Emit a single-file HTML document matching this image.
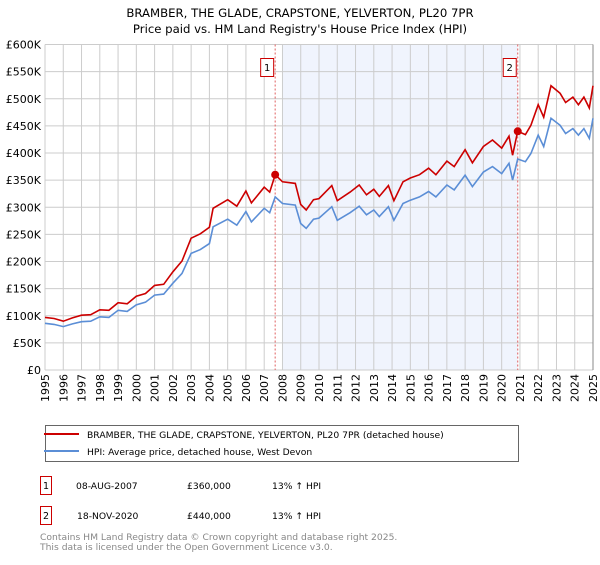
<!DOCTYPE html>
<html><head><meta charset="utf-8"><style>
body{margin:0;background:#fff;}
svg text{font-family:"DejaVu Sans","Liberation Sans",sans-serif;}
</style></head><body>
<svg id="c" width="600" height="560" xmlns="http://www.w3.org/2000/svg">
<text x="300" y="17" text-anchor="middle" font-size="11.7">BRAMBER, THE GLADE, CRAPSTONE, YELVERTON, PL20 7PR</text>
<text x="300" y="33" text-anchor="middle" font-size="11.7">Price paid vs. HM Land Registry's House Price Index (HPI)</text>
<g id="plot"></g>
<rect x="45.5" y="425.5" width="473" height="36" fill="none" stroke="#666"/>
<line x1="44" y1="434" x2="79" y2="434" stroke="#cc0000" stroke-width="2"/>
<text x="87" y="438" font-size="9.2">BRAMBER, THE GLADE, CRAPSTONE, YELVERTON, PL20 7PR (detached house)</text>
<line x1="44" y1="451" x2="79" y2="451" stroke="#5b8ed6" stroke-width="2"/>
<text x="87" y="455" font-size="9.2">HPI: Average price, detached house, West Devon</text>
<rect x="40.5" y="476.5" width="11" height="18" fill="none" stroke="#cc0000"/>
<text x="46" y="489" font-size="9.5" text-anchor="middle">1</text>
<text x="76" y="489" font-size="9.2">08-AUG-2007</text>
<text x="187" y="489" font-size="9.2">£360,000</text>
<text x="272" y="489" font-size="9.2">13% ↑ HPI</text>
<rect x="40.5" y="506.5" width="11" height="18" fill="none" stroke="#cc0000"/>
<text x="46" y="519" font-size="9.5" text-anchor="middle">2</text>
<text x="77" y="519" font-size="9.2">18-NOV-2020</text>
<text x="187" y="519" font-size="9.2">£440,000</text>
<text x="272" y="519" font-size="9.2">13% ↑ HPI</text>
<text x="40" y="540" font-size="9.2" fill="#888">Contains HM Land Registry data © Crown copyright and database right 2025.</text>
<text x="40" y="550" font-size="9.2" fill="#888">This data is licensed under the Open Government Licence v3.0.</text>
</svg>
<script>
const years=[1995,1995.5,1996,1996.5,1997,1997.5,1998,1998.5,1999,1999.5,2000,2000.5,2001,2001.5,2002,2002.5,2003,2003.5,2004,2004.2,2005,2005.5,2006,2006.3,2007,2007.3,2007.6,2008,2008.7,2009,2009.3,2009.7,2010,2010.7,2011,2011.7,2012.2,2012.6,2013,2013.3,2013.8,2014.1,2014.6,2015,2015.5,2016,2016.4,2017,2017.4,2018,2018.4,2019,2019.5,2020,2020.4,2020.6,2020.88,2021.3,2021.6,2022,2022.3,2022.7,2023.2,2023.5,2023.9,2024.2,2024.5,2024.8,2025];
const hpiValues=[86,84,80,85,89,90,98,97,110,108,120,125,138,140,160,178,215,222,233,264,278,267,292,273,298,290,319,307,304,270,261,278,280,301,276,290,302,286,295,283,301,276,307,313,319,329,319,341,332,359,338,365,375,362,381,350,389,384,399,433,412,464,451,436,445,433,445,427,464];
const propertyValues=[97,95,90,96,101,102,111,110,124,122,136,141,156,158,181,201,243,251,263,298,314,302,330,308,337,328,360,347,344,305,295,314,316,340,312,328,341,323,333,320,340,312,347,354,360,372,360,385,375,406,382,412,424,409,431,396,440,434,451,489,466,524,510,493,503,489,503,483,524];
const saleYears=[2007.6,2020.88];
const saleValues=[360,440];
const saleLabels=["1","2"];
const yTicks=[0,50,100,150,200,250,300,350,400,450,500,550,600];
const yTickLabels=["£0","£50K","£100K","£150K","£200K","£250K","£300K","£350K","£400K","£450K","£500K","£550K","£600K"];
const xTicks=[1995,1996,1997,1998,1999,2000,2001,2002,2003,2004,2005,2006,2007,2008,2009,2010,2011,2012,2013,2014,2015,2016,2017,2018,2019,2020,2021,2022,2023,2024,2025];

const X0=45,X1=593,Y0=370,Y1=44.5;
const xs=y=>X0+(y-1995)/30*(X1-X0);
const ys=v=>Y0-v/600*(Y0-Y1);
const NS="http://www.w3.org/2000/svg";
const g=document.getElementById('plot');
function mk(t,a){const e=document.createElementNS(NS,t);for(const k in a)e.setAttribute(k,a[k]);g.appendChild(e);return e;}
let e=mk('rect',{x:xs(2008),y:Y1,width:xs(saleYears[1])-xs(2008),height:Y0-Y1,fill:'#f0f4fd'});


yTicks.forEach((v,i)=>{
 let l=mk('line',{x1:X0,x2:X1,y1:ys(v),y2:ys(v),stroke:'#ccc'});
 
 
 let t=mk('text',{x:X0-4,y:ys(v)+4,'text-anchor':'end','font-size':'11'});t.textContent=yTickLabels[i];
 
 
});
xTicks.forEach(yr=>{
 let l=mk('line',{x1:xs(yr),x2:xs(yr),y1:Y1,y2:Y0,stroke:'#ccc'});
 
 
 let t=mk('text',{x:0,y:0,'text-anchor':'end','font-size':'11',transform:`translate(${xs(yr)+4},${Y0+4}) rotate(-90)`});t.textContent=yr;
 
 
});
e=mk('line',{x1:X1,x2:X1,y1:Y1,y2:Y0,stroke:'#888'});


saleYears.forEach((yr,i)=>{
 let l=mk('line',{x1:xs(yr),x2:xs(yr),y1:Y1,y2:Y0,stroke:'#e06060','stroke-dasharray':'2,2'});
 
 
 let r=mk('rect',{x:xs(yr)-14.5,y:58.5,width:13,height:18,fill:'#fff',stroke:'#cc0000'});
 
 
 let t=mk('text',{x:xs(yr)-8,y:71,'text-anchor':'middle','font-size':'10'});t.textContent=saleLabels[i];
 
 
});
const path=vals=>vals.map((v,i)=>(i?'L':'M')+xs(years[i]).toFixed(1)+','+ys(v).toFixed(1)).join('');
e=mk('path',{d:path(hpiValues),fill:'none',stroke:'#5b8ed6','stroke-width':1.6});


e=mk('path',{d:path(propertyValues),fill:'none',stroke:'#cc0000','stroke-width':1.6});


saleYears.forEach((yr,i)=>{
 let c=mk('circle',{cx:xs(yr),cy:ys(saleValues[i]),r:4,fill:'#cc0000'});
 
 
});
</script>
</body></html>
